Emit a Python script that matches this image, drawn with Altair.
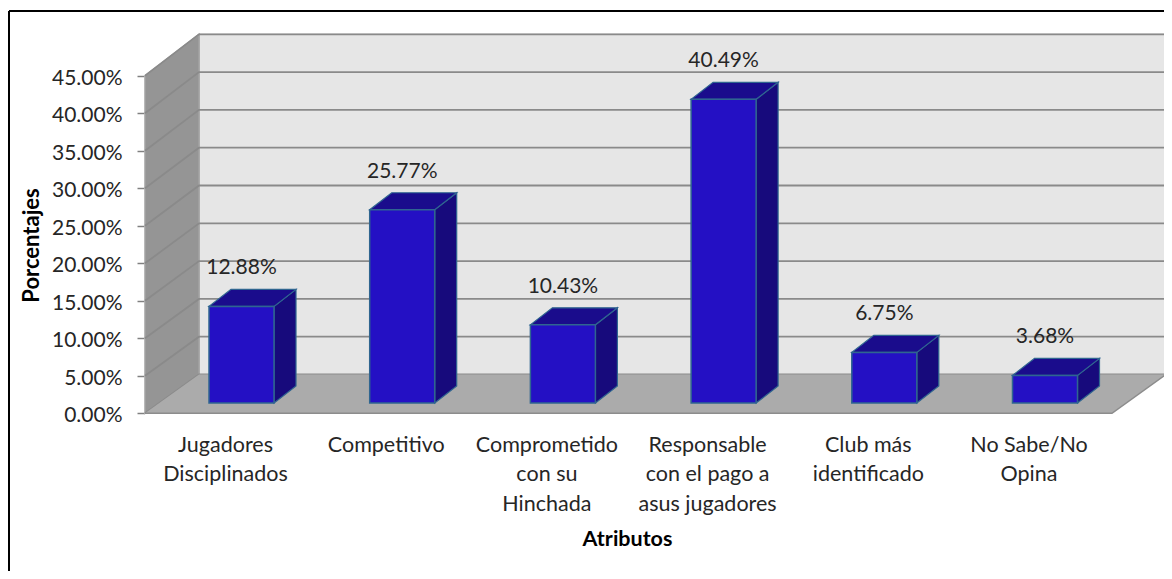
import altair as alt
import pandas as pd

categories = [["Jugadores", "Disciplinados"], ["Competitivo"], ["Comprometido", "con su", "Hinchada"],
              ["Responsable", "con el pago a", "asus jugadores"], ["Club más", "identificado"], ["No Sabe/No", "Opina"]]
values = [12.88, 25.77, 10.43, 40.49, 6.75, 3.68]
ticks = [0, 5, 10, 15, 20, 25, 30, 35, 40, 45]

FONT = "Lato"
TXT = "#262626"
PX = 160.7      # px per category
PY = 7.5        # px per percent
X0 = 225.0      # page x of category 0 on the front plane
Y0 = 413.3      # page y of 0 % on the front plane
L, T, W, H = 144, 34, 1020, 380


def ux(p):
    return (p - X0) / PX


def uy(p):
    return (Y0 - p) / PY


xs = alt.Scale(domain=[ux(L), ux(L + W)], nice=False, zero=False)
ys = alt.Scale(domain=[uy(T + H), uy(T)], nice=False, zero=False)

label_js = "[" + ",".join("[" + ",".join(repr(s) for s in c) + "]" for c in categories) + "]"
x_axis = alt.Axis(
    title="Atributos", titleFont=FONT, titleFontSize=21.5, titleFontWeight="bold", titleColor="#000000",
    titleX=627 - L, titleY=539 - (T + H), titleBaseline="middle", titleAnchor="middle", titleAlign="center",
    values=list(range(len(categories))), labelExpr=f"{label_js}[datum.value]", domain=False, ticks=False,
    grid=False, labelFont=FONT, labelFontSize=21.5, labelColor=TXT, labelPadding=20, labelLineHeight=29.5,
    labelOverlap=False, labelFlush=False, labelAngle=0, labelBaseline="top")
y_axis = alt.Axis(
    title="Porcentajes", titleFont=FONT, titleFontSize=22, titleFontWeight="bold", titleColor="#000000",
    titleX=31 - L, titleY=245 - T, titleBaseline="middle", titleAnchor="middle", titleAlign="center", titleAngle=270,
    values=ticks, labelExpr="format(datum.value, '.2f') + '%'", domain=False, grid=False,
    tickColor="#808080", tickSize=7, tickWidth=1.5, labelFont=FONT, labelFontSize=21, labelColor=TXT,
    labelPadding=15, labelOffset=2.5)
X = alt.X("x:Q", scale=xs, axis=x_axis)
Y = alt.Y("y:Q", scale=ys, axis=y_axis)
Y2 = alt.Y2("y2:Q")

# depth of the box
xf, xb = ux(145), ux(199)
xfr, xbr = ux(1112), ux(1166)
yb0 = uy(374.5)
SC = 1.008


def back(v):
    return v * SC + yb0


# walls and floor
wall = pd.DataFrame({"x": [xb, xbr], "y": [back(0)] * 2, "y2": [back(45)] * 2})
side = pd.DataFrame({"x": [xf, xb], "y": [0, back(0)], "y2": [45, back(45)]})
floor = pd.DataFrame({"x": [xf, xb, xfr, xbr], "y": [0, 0, 0, back(0)], "y2": [0, back(0), back(0), back(0)]})

wall_l = alt.Chart(wall).mark_area(color="#e6e6e6", stroke="#a0a0a0", strokeWidth=1).encode(x=X, y=Y, y2=Y2)
side_l = alt.Chart(side).mark_area(color="#959595", stroke="#a3a3a3", strokeWidth=1.5).encode(x=X, y=Y, y2=Y2)
rows = []
for t in ticks:
    rows += [{"t": t, "o": 0, "x": xf, "y": t}, {"t": t, "o": 1, "x": xb, "y": back(t)}, {"t": t, "o": 2, "x": xbr, "y": back(t)}]
grid = pd.DataFrame(rows)
grid_l = alt.Chart(grid).mark_line(color="#8a8a8a", strokeWidth=1.8).encode(x=X, y=Y, detail="t:N", order="o:Q")
floor_l = alt.Chart(floor).mark_area(color="#ababab").encode(x=X, y=Y, y2=Y2)
edge = pd.DataFrame({"x": [xf, xfr, xbr], "y": [0, 0, back(0)]})
edge_l = alt.Chart(edge).mark_line(color="#8c8c8c", strokeWidth=1.5).encode(x=X, y=Y, order=alt.Order("x:Q"))

# bars
half = 32.5 / PX
bar_dx = 16.5 / PX
base = uy(403)
dx, dy = 22 / PX, 17 / PY
front, top, right, lab = [], [], [], []
for i, v in enumerate(values):
    a, b = i + bar_dx - half, i + bar_dx + half
    t = base + v
    front.append({"i": i, "x": a, "x2": b, "y": base, "y2": t})
    top += [{"i": i, "x": a, "y": t, "y2": t}, {"i": i, "x": a + dx, "y": t, "y2": t + dy},
            {"i": i, "x": b, "y": t, "y2": t + dy}, {"i": i, "x": b + dx, "y": t + dy, "y2": t + dy}]
    right += [{"i": i, "x": b, "y": base, "y2": t}, {"i": i, "x": b + dx, "y": base + dy, "y2": t + dy}]
    lab.append({"x": i + bar_dx, "y": t, "t": f"{v:.2f}%"})

STROKE = "#2f6590"
front_l = alt.Chart(pd.DataFrame(front)).mark_rect(color="#2410c4", stroke=STROKE, strokeWidth=1.5).encode(
    x=X, x2="x2:Q", y=Y, y2=Y2)
top_l = alt.Chart(pd.DataFrame(top)).mark_area(color="#1a0c8c", stroke=STROKE, strokeWidth=1.2).encode(
    x=X, y=Y, y2=Y2, detail="i:N")
right_l = alt.Chart(pd.DataFrame(right)).mark_area(color="#170a7c", stroke=STROKE, strokeWidth=1.2).encode(
    x=X, y=Y, y2=Y2, detail="i:N")
text_l = alt.Chart(pd.DataFrame(lab)).mark_text(font=FONT, fontSize=21, color=TXT, baseline="middle", dy=-38).encode(
    x=X, y=Y, text="t:N")

# outer frame
one = pd.DataFrame({"a": [0]})
frame_t = alt.Chart(one).mark_rule(color="#000000", strokeWidth=2).encode(
    x=alt.value(9 - L), x2=alt.value(1164 - L), y=alt.value(11 - T))
frame_l = alt.Chart(one).mark_rule(color="#000000", strokeWidth=2).encode(
    x=alt.value(9 - L), y=alt.value(11 - T), y2=alt.value(571 - T))

chart = alt.layer(frame_t, frame_l, wall_l, side_l, grid_l, floor_l, edge_l, right_l, top_l, front_l, text_l).properties(
    width=W, height=H, padding={"left": L - 8, "top": T - 8, "right": 0, "bottom": 571 - T - H},
    autosize=alt.AutoSizeParams(type="none"), background="#ffffff",
).configure_view(stroke=None)

chart.save("out.html", embed_options={"renderer": "svg", "actions": False})
